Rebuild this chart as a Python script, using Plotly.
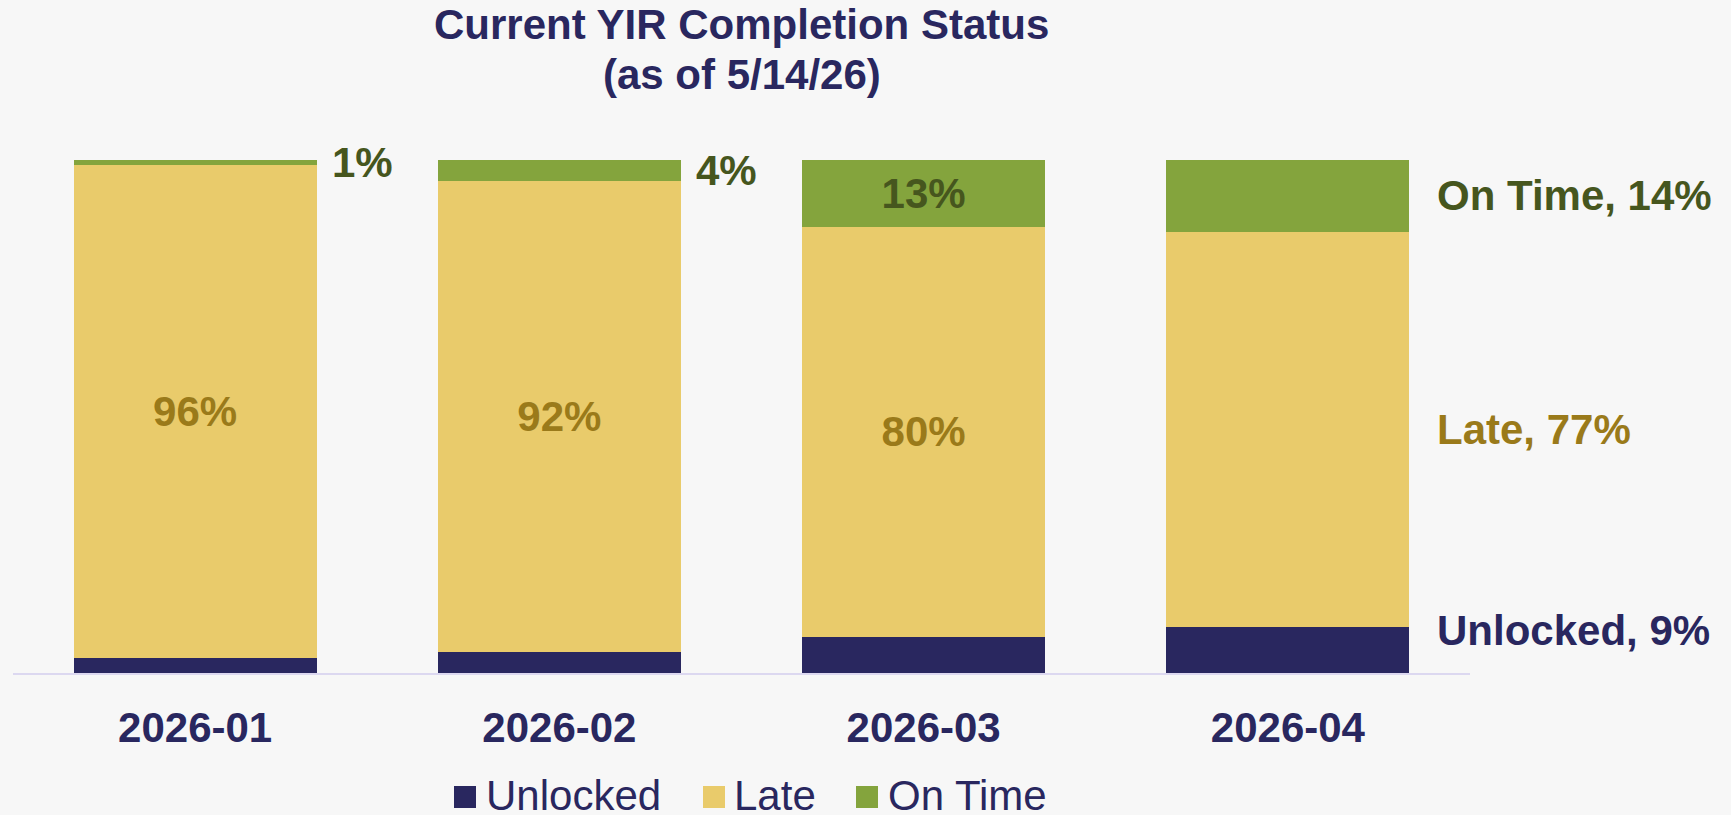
import plotly.graph_objects as go

categories = ["2026-01", "2026-02", "2026-03", "2026-04"]
unlocked = [3, 4, 7, 9]
late = [96, 92, 80, 77]
on_time = [1, 4, 13, 14]

series_names = ["Unlocked", "Late", "On Time"]
bar_colors = ["#29275F", "#E9CB6B", "#84A43D"]
label_colors = ["#29275F", "#9A7A1A", "#46561E"]

title_lines = ["Current YIR Completion Status", "(as of 5/14/26)"]

FONT = "Liberation Sans, Arial, sans-serif"
BG = "#F7F7F7"

# plot-area geometry in pixels (used for layout of title and manual legend)
W, H = 1731, 815
ML, MR, MT, MB = 13, 261, 160, 142
PW = W - ML - MR
PH = H - MT - MB


def px_x(px):
    return (px - ML) / PW


def px_y(py):
    return (H - MB - py) / PH


late_text = [f"{v}%" for v in late]
late_text[-1] = ""
on_time_text = ["", "", f"{on_time[2]}%", ""]

fig = go.Figure()
fig.add_trace(go.Bar(
    x=categories, y=unlocked, name=series_names[0],
    marker=dict(color=bar_colors[0], line=dict(width=0)),
    showlegend=False, hoverinfo="skip",
))
fig.add_trace(go.Bar(
    x=categories, y=late, name=series_names[1],
    marker=dict(color=bar_colors[1], line=dict(width=0)),
    text=late_text, texttemplate="%{text}", textposition="inside",
    insidetextanchor="middle", textangle=0, constraintext="none",
    textfont=dict(family=FONT, size=42, color=label_colors[1], weight="bold"),
    showlegend=False, hoverinfo="skip",
))
fig.add_trace(go.Bar(
    x=categories, y=on_time, name=series_names[2],
    marker=dict(color=bar_colors[2], line=dict(width=0)),
    text=on_time_text, texttemplate="%{text}", textposition="inside",
    insidetextanchor="middle", textangle=0, constraintext="none",
    textfont=dict(family=FONT, size=42, color=label_colors[2], weight="bold"),
    showlegend=False, hoverinfo="skip",
))

half_bar = (1 - 0.333) / 2
annotations = []
# title (two lines)
for line, cy in zip(title_lines, [24.5, 74.5]):
    annotations.append(dict(
        x=0.5, y=px_y(cy), xref="paper", yref="paper", text=line,
        showarrow=False, xanchor="center", yanchor="middle", align="center",
        font=dict(family=FONT, size=42, color="#29275F", weight="bold"),
    ))
# outside labels for small on-time segments
for i in (0, 1):
    annotations.append(dict(
        x=i + half_bar, y=unlocked[i] + late[i] + on_time[i] / 2,
        xref="x", yref="y", text=f"{on_time[i]}%", showarrow=False,
        xanchor="left", yanchor="middle", xshift=13,
        font=dict(family=FONT, size=42, color=label_colors[2], weight="bold"),
    ))
# series labels to the right of the last bar
last = len(categories) - 1
right_labels = [
    (f"On Time, {on_time[last]}%", unlocked[last] + late[last] + on_time[last] / 2, label_colors[2], 0),
    (f"Late, {late[last]}%", unlocked[last] + late[last] / 2, label_colors[1], 0),
    (f"Unlocked, {unlocked[last]}%", unlocked[last] / 2, label_colors[0], 19),
]
for txt, yv, col, ys in right_labels:
    annotations.append(dict(
        x=last + half_bar, y=yv, xref="x", yref="y", text=txt, showarrow=False,
        xanchor="left", yanchor="middle", xshift=26, yshift=ys,
        font=dict(family=FONT, size=42, color=col, weight="bold"),
    ))

# manual legend (large square swatches)
legend_swatch_x = [454, 703, 856]
legend_text_x = [484, 732, 886]
legend_cy = 795
shapes = []
for name, col, sx, tx in zip(series_names, bar_colors, legend_swatch_x, legend_text_x):
    shapes.append(dict(
        type="rect", xref="paper", yref="paper",
        xsizemode="pixel", ysizemode="pixel",
        xanchor=px_x(sx), yanchor=px_y(legend_cy + 2),
        x0=0, x1=22, y0=-11, y1=11,
        fillcolor=col, line=dict(width=0), layer="above",
    ))
    annotations.append(dict(
        x=px_x(tx), y=px_y(legend_cy), xref="paper", yref="paper",
        text=name, showarrow=False, xanchor="left", yanchor="middle",
        font=dict(family=FONT, size=42, color="#29275F"),
    ))

fig.update_layout(
    width=W, height=H,
    barmode="stack", bargap=0.333,
    paper_bgcolor=BG, plot_bgcolor=BG,
    margin=dict(l=ML, r=MR, t=MT, b=MB, autoexpand=False),
    xaxis=dict(
        type="category", range=[-0.5, 3.5],
        showline=True, linecolor="#DCD8F0", linewidth=2,
        ticks="", showgrid=False, zeroline=False,
        tickfont=dict(family=FONT, size=42, color="#29275F", weight="bold"),
        ticklabelstandoff=17,
    ),
    yaxis=dict(range=[0, 100], visible=False, showgrid=False, zeroline=False),
    showlegend=False,
    annotations=annotations,
    shapes=shapes,
)

fig.write_html(
    "out.html",
    config={"displayModeBar": False},
    post_script="document.body.style.margin='0px';document.body.style.background='#F7F7F7';",
)
